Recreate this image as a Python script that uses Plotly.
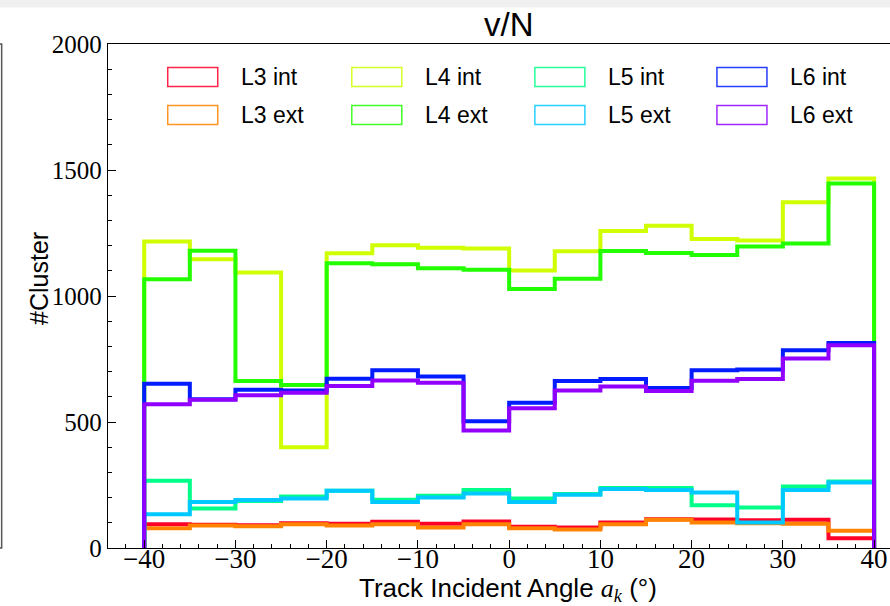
import numpy as np
import plotly.graph_objects as go

# ---- data ----
edges = list(range(-40, 45, 5))  # 16 bins of width 5
labels = ["L3 int", "L3 ext", "L4 int", "L4 ext", "L5 int", "L5 ext", "L6 int", "L6 ext"]
colors = ["#ff0029", "#ff8300", "#cfff00", "#23ff00", "#00ff89", "#00c9ff", "#001cff", "#9100ff"]

l3_int = [94, 92, 90, 98, 96, 104, 96, 105, 84, 81, 101, 114, 113, 110, 112, 39]
l3_ext = [78, 89, 86, 94, 89, 94, 81, 94, 78, 73, 94, 112, 101, 98, 96, 68]
l4_int = [1216, 1146, 1093, 400, 1170, 1201, 1191, 1188, 1101, 1178, 1258, 1279, 1226, 1220, 1372, 1466]
l4_ext = [1066, 1180, 663, 647, 1130, 1126, 1110, 1104, 1028, 1068, 1179, 1171, 1163, 1196, 1208, 1446]
l5_int = [267, 157, 187, 204, 227, 191, 207, 230, 196, 214, 238, 238, 170, 161, 244, 264]
l5_ext = [134, 183, 190, 196, 227, 183, 200, 216, 183, 211, 234, 230, 220, 101, 230, 260]
l6_int = [652, 590, 628, 625, 672, 705, 681, 503, 576, 663, 671, 635, 705, 708, 785, 813]
l6_ext = [570, 588, 606, 616, 643, 665, 656, 466, 555, 625, 641, 623, 664, 671, 752, 805]

series = [l3_int, l3_ext, l4_int, l4_ext, l5_int, l5_ext, l6_int, l6_ext]

x_ticks = [-40, -30, -20, -10, 0, 10, 20, 30, 40]
y_ticks = [0, 500, 1000, 1500, 2000]

# ---- geometry (pixels) ----
W, H = 890, 606
L, R, T, B = 108.3, 890.0, 43.5, 548.0
SERIF = "Liberation Serif, DejaVu Serif, serif"
SANS = "Liberation Sans Narrow, Liberation Sans, DejaVu Sans, sans-serif"


def px2x(px):
    return (px - L) / (R - L)


def px2y(py):
    return (B - py) / (B - T)


fig = go.Figure()

e = np.array(edges, dtype=float)
for name, vals, col in zip(labels, series, colors):
    v = np.array(vals, dtype=float)
    xs = np.concatenate([[e[0]], e[:-1], [e[-1], e[-1]]])
    ys = np.concatenate([[0.0], v, [v[-1], 0.0]])
    fig.add_trace(go.Scatter(x=xs, y=ys, mode="lines", name=name,
                             line=dict(color=col, width=4, shape="hv"),
                             showlegend=False, hoverinfo="skip"))

shapes = []
annotations = []

# gray bar at very top of the picture
shapes.append(dict(type="rect", xref="paper", yref="paper",
                   x0=px2x(0), x1=px2x(W), y0=px2y(7), y1=px2y(-5),
                   fillcolor="#f0f0f0", line=dict(width=0), layer="below"))
# remnant of neighbouring panel on the left
shapes.append(dict(type="path", xref="paper", yref="paper",
                   path=f"M {px2x(-1)} {px2y(T)} L {px2x(2)} {px2y(T)} L {px2x(2)} {px2y(B)} L {px2x(-1)} {px2y(B)}",
                   line=dict(color="#555555", width=1.5)))

# manual legend: 4 columns x 2 rows
col_rect_x = [168, 352, 535, 717]
row_y = [76.5, 114.5]
for i, (name, col) in enumerate(zip(labels, colors)):
    c = i // 2
    r = i % 2
    x0 = col_rect_x[c]
    yc = row_y[r]
    shapes.append(dict(type="rect", xref="paper", yref="paper",
                       x0=px2x(x0), x1=px2x(x0 + 50), y0=px2y(yc + 9.5), y1=px2y(yc - 9.5),
                       line=dict(color=col, width=1.5), fillcolor="white", opacity=0.85))
    annotations.append(dict(xref="paper", yref="paper", x=px2x(x0 + 71), y=px2y(yc),
                            text=name, showarrow=False, xanchor="left", yanchor="middle",
                            font=dict(family=SANS, size=23, color="black")))

# title
annotations.append(dict(xref="paper", yref="paper", x=px2x(509), y=px2y(24),
                        text="v/N", showarrow=False, xanchor="center", yanchor="middle",
                        font=dict(family=SANS, size=33, color="black")))
# y label
annotations.append(dict(xref="paper", yref="paper", x=px2x(40), y=px2y(278),
                        text="#Cluster", showarrow=False, textangle=-90,
                        xanchor="center", yanchor="middle",
                        font=dict(family=SANS, size=25, color="black")))
# x label
annotations.append(dict(xref="paper", yref="paper", x=px2x(508), y=px2y(590),
                        text=("Track Incident Angle "
                              "<span style='font-family:Liberation Serif'><i>a<sub>k</sub></i></span>"
                              " (°)"),
                        showarrow=False, xanchor="center", yanchor="middle",
                        font=dict(family=SANS, size=26, color="black")))

fig.update_layout(
    width=W, height=H,
    margin=dict(l=L, r=W - R, t=T, b=H - B),
    paper_bgcolor="white", plot_bgcolor="white",
    shapes=shapes, annotations=annotations,
    showlegend=False,
)
x_lo = -40 - (144.5 - L) / 9.12
x_hi = -40 + (R - 144.5) / 9.12
fig.update_xaxes(range=[x_lo, x_hi], tickvals=x_ticks, ticktext=[("−" + str(-t)) if t < 0 else str(t) for t in x_ticks],
                 ticks="inside", ticklen=8, tickwidth=1.2, tickcolor="black",
                 minor=dict(ticks="inside", ticklen=4, tickwidth=1, tickcolor="black", dtick=2, tick0=0),
                 showline=True, linecolor="black", linewidth=1.4, mirror=True,
                 showgrid=False, zeroline=False, ticklabelstandoff=-14,
                 tickfont=dict(family=SERIF, size=27, color="black"))
fig.update_yaxes(range=[0, 2000], tickvals=y_ticks,
                 ticks="inside", ticklen=8, tickwidth=1.2, tickcolor="black",
                 minor=dict(ticks="inside", ticklen=4, tickwidth=1, tickcolor="black", dtick=100, tick0=0),
                 showline=True, linecolor="black", linewidth=1.4,
                 showgrid=False, zeroline=False,
                 tickfont=dict(family=SERIF, size=25, color="black"))

fig.write_html("out.html")
